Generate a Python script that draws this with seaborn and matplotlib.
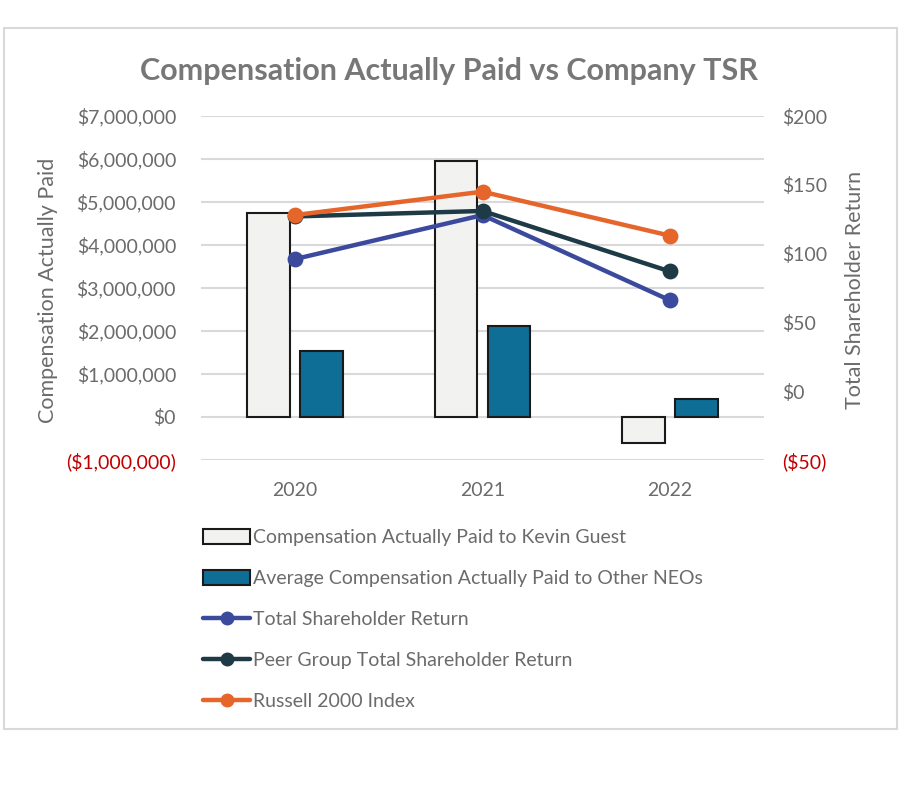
import matplotlib
matplotlib.use('Agg')
import matplotlib.pyplot as plt
from matplotlib.patches import Patch, Rectangle
from matplotlib.lines import Line2D
import seaborn as sns
import pandas as pd
import numpy as np

# data
years = ['2020', '2021', '2022']
cap_kevin = [4740000, 5960000, -600000]
cap_neos = [1540000, 2120000, 410000]
tsr = [96, 128, 66]
peer_tsr = [127, 131, 87]
russell_2000 = [128, 145, 113]

bar_names = ['Compensation Actually Paid to Kevin Guest',
             'Average Compensation Actually Paid to Other NEOs']
line_names = ['Total Shareholder Return',
              'Peer Group Total Shareholder Return',
              'Russell 2000 Index']
bar_colors = ['#F2F3F1', '#0E6E96']
line_colors = ['#3C4A9E', '#1E3A46', '#E5652B']

bars = pd.DataFrame({'year': years * 2,
                     'series': [bar_names[0]] * 3 + [bar_names[1]] * 3,
                     'value': cap_kevin + cap_neos})
lines = pd.DataFrame({'year': years * 3,
                      'series': [n for n in line_names for _ in years],
                      'value': tsr + peer_tsr + russell_2000})

sns.set_theme(style='white')
plt.rcParams['font.family'] = ['Lato', 'DejaVu Sans']
grey = '#6B6B6B'
red = '#C00000'

fig = plt.figure(figsize=(9.1, 7.96), dpi=100)
ax = fig.add_axes([201 / 910, 1 - 460 / 796, 563 / 910, 344 / 796])

sns.barplot(data=bars, x='year', y='value', hue='series', palette=bar_colors,
            saturation=1, width=0.565, gap=0.19, edgecolor='#1A1A1A',
            linewidth=1.5, legend=False, ax=ax)
ax.set_ylim(-1000000, 7000000)
left_ticks = np.arange(-1000000, 7000001, 1000000)
ax.set_yticks(left_ticks)
ax.set_yticklabels([f'${v:,.0f}' if v >= 0 else f'(${-v:,.0f})' for v in left_ticks])
ax.yaxis.grid(True, color='#D9D9D9', linewidth=1.5)
ax.set_axisbelow(True)
ax.set_xlabel('')
ax.set_ylabel('')

ax2 = ax.twinx()
sns.pointplot(data=lines, x='year', y='value', hue='series', palette=line_colors,
              errorbar=None, markers='o', markersize=9, linewidth=3.2,
              legend=False, ax=ax2)
ax2.set_ylim(-50, 200)
right_ticks = np.arange(-50, 201, 50)
ax2.set_yticks(right_ticks)
ax2.set_yticklabels([f'${v:,.0f}' if v >= 0 else f'(${-v:,.0f})' for v in right_ticks])
ax2.grid(False)
ax2.set_xlabel('')
ax2.set_ylabel('')
ax.set_xlim(-0.5, 2.5)

for a in (ax, ax2):
    for s in a.spines.values():
        s.set_visible(False)
    a.tick_params(length=0, labelsize=14, labelcolor=grey)
ax.tick_params(axis='y', pad=18)
ax.tick_params(axis='x', pad=16)
ax2.tick_params(axis='y', pad=13)
for lab, v in zip(ax.get_yticklabels(), left_ticks):
    if v < 0:
        lab.set_color(red)
for lab, v in zip(ax2.get_yticklabels(), right_ticks):
    if v < 0:
        lab.set_color(red)

fig.text(48 / 910, 1 - 290 / 796, 'Compensation Actually Paid', rotation=90,
         ha='center', va='center', fontsize=15.5, color=grey)
fig.text(855 / 910, 1 - 290 / 796, 'Total Shareholder Return', rotation=90,
         ha='center', va='center', fontsize=15.5, color=grey)
fig.text(449 / 910, 1 - 71 / 796, 'Compensation Actually Paid vs Company TSR',
         ha='center', va='center', fontsize=22, weight='bold', color='#777777')

handles = [Patch(facecolor=c, edgecolor='#1A1A1A', linewidth=1.5) for c in bar_colors]
handles += [Line2D([], [], color=c, lw=3.2, marker='o', markersize=9) for c in line_colors]
fig.legend(handles, bar_names + line_names, loc='upper left',
           bbox_to_anchor=(195 / 910, 1 - 521 / 796), frameon=False,
           fontsize=14, labelcolor=grey, handlelength=2.45, handleheight=0.8,
           handletextpad=0.15, labelspacing=1.22, borderaxespad=0)

fig.add_artist(Rectangle((4 / 910, 1 - 729 / 796), 893 / 910, 701 / 796,
                         transform=fig.transFigure, fill=False,
                         edgecolor='#D9D9D9', linewidth=1.5))

fig.savefig('out.png', dpi=100)
